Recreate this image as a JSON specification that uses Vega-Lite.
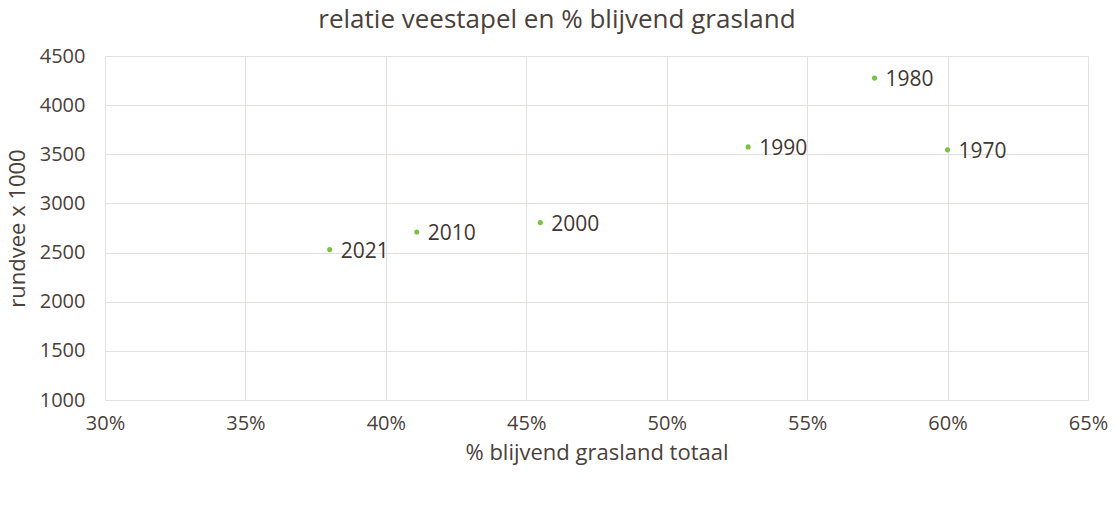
{
  "$schema": "https://vega.github.io/schema/vega-lite/v6.json",
  "width": 983,
  "height": 344,
  "autosize": {"type": "none"},
  "padding": {"left": 105, "top": 56, "right": 28, "bottom": 126},
  "background": "white",
  "config": {
    "view": {"stroke": null},
    "font": "Open Sans",
    "axis": {
      "labelColor": "#4a413a",
      "titleColor": "#4a413a",
      "labelFont": "Open Sans",
      "titleFont": "Open Sans",
      "labelFontSize": 20,
      "titleFontSize": 22,
      "titleFontWeight": "normal",
      "gridColor": "#e4e0dd",
      "gridWidth": 1,
      "domain": false,
      "ticks": false
    }
  },
  "title": {
    "text": "relatie veestapel en % blijvend grasland",
    "fontSize": 26,
    "fontWeight": "normal",
    "color": "#4a413a",
    "font": "Open Sans",
    "anchor": "middle",
    "frame": "bounds",
    "offset": 13
  },
  "data": {
    "values": [
      {"jaar": "1970", "grasland": 0.600, "rundvee": 3545},
      {"jaar": "1980", "grasland": 0.574, "rundvee": 4275},
      {"jaar": "1990", "grasland": 0.529, "rundvee": 3575},
      {"jaar": "2000", "grasland": 0.455, "rundvee": 2805},
      {"jaar": "2010", "grasland": 0.411, "rundvee": 2710},
      {"jaar": "2021", "grasland": 0.380, "rundvee": 2530}
    ]
  },
  "encoding": {
    "x": {
      "field": "grasland",
      "type": "quantitative",
      "scale": {"domain": [0.30, 0.65], "nice": false, "zero": false},
      "axis": {
        "values": [0.30, 0.35, 0.40, 0.45, 0.50, 0.55, 0.60, 0.65],
        "format": ".0%",
        "title": "% blijvend grasland totaal",
        "labelPadding": 13,
        "titlePadding": 9,
        "labelFlush": false
      }
    },
    "y": {
      "field": "rundvee",
      "type": "quantitative",
      "scale": {"domain": [1000, 4500], "nice": false, "zero": false},
      "axis": {
        "values": [1000, 1500, 2000, 2500, 3000, 3500, 4000, 4500],
        "format": "d",
        "title": "rundvee x 1000",
        "labelPadding": 20,
        "titlePadding": 10,
        "labelFlush": false
      }
    }
  },
  "layer": [
    {
      "mark": {"type": "point", "filled": true, "shape": "circle", "size": 26, "color": "#7cc242", "opacity": 1}
    },
    {
      "mark": {"type": "text", "align": "left", "baseline": "middle", "dx": 11, "dy": 2, "fontSize": 21, "color": "#3f3731", "font": "Open Sans"},
      "encoding": {"text": {"field": "jaar"}}
    }
  ]
}
